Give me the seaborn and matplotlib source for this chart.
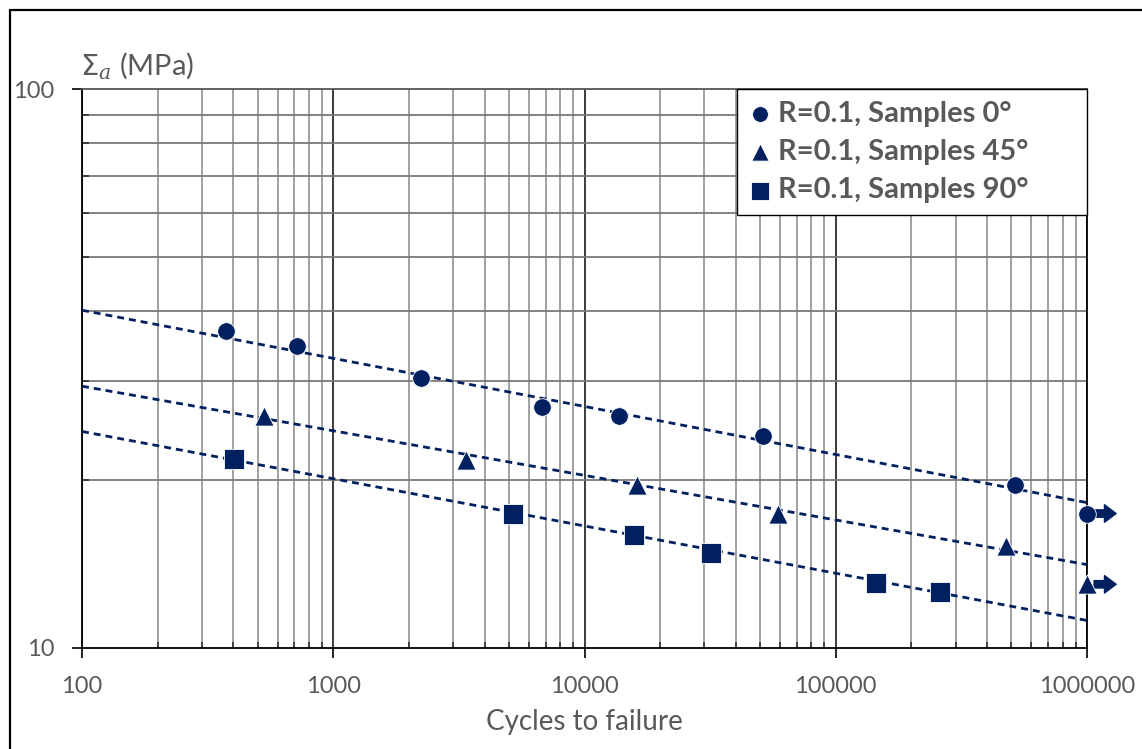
import matplotlib
matplotlib.use('Agg')
import matplotlib.pyplot as plt
import matplotlib.ticker as mticker
from matplotlib.lines import Line2D
import seaborn as sns
import pandas as pd

# Fatigue data (cycles to failure, stress amplitude in MPa)
cycles_0 = [374, 717, 2236, 6775, 13720, 51300, 516000, 1000000]
stress_0 = [36.9, 34.7, 30.4, 27.0, 26.0, 23.9, 19.6, 17.4]
runout_0 = [False, False, False, False, False, False, False, True]

cycles_45 = [530, 3375, 16180, 58900, 476000, 1000000]
stress_45 = [26.0, 21.7, 19.6, 17.4, 15.2, 13.0]
runout_45 = [False, False, False, False, False, True]

cycles_90 = [403, 5190, 15740, 31850, 144600, 260000]
stress_90 = [21.8, 17.4, 15.9, 14.8, 13.06, 12.6]
runout_90 = [False, False, False, False, False, False]

# Trend lines (power law, straight on log-log) given by their end values
fit_cycles = [100, 1000000]
fit_0 = [40.2, 18.2]
fit_45 = [29.4, 14.1]
fit_90 = [24.4, 11.2]

labels = ['R=0.1, Samples 0°', 'R=0.1, Samples 45°', 'R=0.1, Samples 90°']
markers = ['o', '^', 's']
sizes = [160, 190, 190]

NAVY = '#002060'
GREY_TEXT = '#595959'

sns.set_theme(style='white')
plt.rcParams['font.family'] = ['Lato', 'DejaVu Sans']
plt.rcParams['mathtext.fontset'] = 'custom'
plt.rcParams['mathtext.rm'] = 'DejaVu Sans'
plt.rcParams['mathtext.it'] = 'DejaVu Serif:italic'

fig = plt.figure(figsize=(11.42, 7.49), dpi=100)
ax = fig.add_axes([82 / 1142, 1 - 648 / 749, 1005 / 1142, 559 / 749])

series = [
    (cycles_0, stress_0, runout_0, fit_0),
    (cycles_45, stress_45, runout_45, fit_45),
    (cycles_90, stress_90, runout_90, fit_90),
]

for (cyc, sig, run, fit), lab, mk, sz in zip(series, labels, markers, sizes):
    fit_df = pd.DataFrame({'cycles': fit_cycles, 'stress': fit})
    sns.lineplot(data=fit_df, x='cycles', y='stress', ax=ax, color=NAVY,
                 lw=2, linestyle=(0, (2.5, 1.8)), zorder=3)
    df = pd.DataFrame({'cycles': cyc, 'stress': sig})
    sns.scatterplot(data=df, x='cycles', y='stress', ax=ax, marker=mk, s=sz,
                    color=NAVY, edgecolor='white', linewidth=0.6, label=lab,
                    zorder=4, clip_on=False)
    # run-out arrows
    for c, s, r in zip(cyc, sig, run):
        if r:
            ax.annotate('', xy=(1.029, s), xytext=(1.007, s),
                        xycoords=('axes fraction', 'data'),
                        arrowprops=dict(arrowstyle='simple,head_width=0.9,head_length=0.6,tail_width=0.38',
                                        color=NAVY, mutation_scale=14, shrinkA=0, shrinkB=0),
                        annotation_clip=False)

ax.set_xscale('log')
ax.set_yscale('log')
ax.set_xlim(100, 1000000)
ax.set_ylim(10, 100)

ax.xaxis.set_major_locator(mticker.FixedLocator([100, 1000, 10000, 100000, 1000000]))
ax.xaxis.set_minor_locator(mticker.LogLocator(base=10, subs=range(2, 10), numticks=20))
ax.yaxis.set_major_locator(mticker.FixedLocator([10, 100]))
ax.yaxis.set_minor_locator(mticker.LogLocator(base=10, subs=range(2, 10), numticks=20))
ax.xaxis.set_major_formatter(mticker.FuncFormatter(lambda v, p: f'{int(round(v))}'))
ax.yaxis.set_major_formatter(mticker.FuncFormatter(lambda v, p: f'{int(round(v))}'))
ax.xaxis.set_minor_formatter(mticker.NullFormatter())
ax.yaxis.set_minor_formatter(mticker.NullFormatter())

ax.grid(which='major', axis='x', color='#1a1a1a', lw=1.2)
ax.grid(which='minor', axis='x', color='#9a9a9a', lw=1.3)
ax.grid(which='minor', axis='y', color='#7a7a7a', lw=1.3)

ax.tick_params(which='major', direction='out', length=7, width=1.2, color='black',
               labelsize=17, labelcolor=GREY_TEXT, pad=13, bottom=True, left=True)
ax.tick_params(axis='x', which='minor', direction='in', length=4, width=1.2,
               color='#333333', bottom=True)
ax.tick_params(axis='y', which='minor', direction='in', length=5, width=1.2,
               color='#333333', left=True)
for side in ['left', 'bottom', 'right']:
    ax.spines[side].set_color('black')
    ax.spines[side].set_linewidth(1.3)
ax.spines['top'].set_color('#555555')
ax.spines['top'].set_linewidth(1.3)

ax.set_xlabel('')
ax.set_ylabel('')

# legend box spans from x=737 px to the right edge of the plot area
leg_x0 = (737 - 82) / 1005
leg = ax.legend(loc='upper left', bbox_to_anchor=(leg_x0, 0, 1 - leg_x0, 1),
                mode='expand', borderaxespad=0,
                frameon=True, fancybox=False, framealpha=1, edgecolor='black',
                prop={'family': 'Lato', 'weight': 'bold', 'size': 21},
                handletextpad=0.2, handlelength=0.8, labelspacing=0.42,
                borderpad=0.4, markerscale=0.9)
leg.get_frame().set_linewidth(1.0)
for t in leg.get_texts():
    t.set_color(GREY_TEXT)

fig.text(584 / 1142, 1 - 722 / 749, 'Cycles to failure', ha='center', va='center',
         fontsize=20, color=GREY_TEXT)
fig.text(80 / 1142, 1 - 66 / 749, r'$\Sigma_a$ (MPa)', ha='left', va='center',
         fontsize=21, color=GREY_TEXT)

# chart-area border (top and left edges visible in the crop)
fig.add_artist(Line2D([10 / 1142, 10 / 1142], [0, 1 - 10 / 749], transform=fig.transFigure,
                      color='black', lw=1.6))
fig.add_artist(Line2D([10 / 1142, 1], [1 - 10 / 749, 1 - 10 / 749], transform=fig.transFigure,
                      color='black', lw=1.6))

fig.savefig('out.png', dpi=100)
